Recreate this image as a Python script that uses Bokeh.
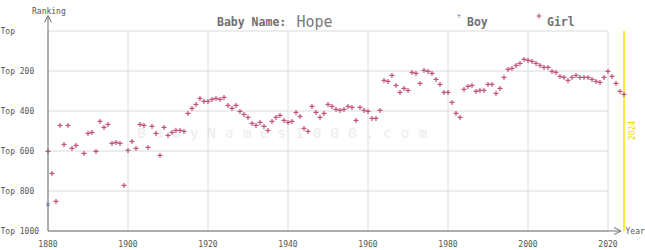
import math
from bokeh.plotting import figure
from bokeh.models import Range1d, Label, Arrow, OpenHead
from bokeh.core.properties import value
from bokeh.embed import file_html
from bokeh.resources import INLINE

# ---------------- data ----------------
years = list(range(1880, 2025))
girl_rank = [
    602, 712, 852, 472, 567, 472, 587, 572, None, 612,   # 1880-1889
    512, 507, 602, 452, 482, 467, 562, 557, 562, 772,    # 1890-1899
    597, 552, 587, 467, 472, 582, 477, 512, 622, 482,    # 1900-1909
    522, 507, 497, 497, 502, 412, 387, 367, 337, 352,    # 1910-1919
    352, 342, 337, 342, 332, 372, 387, 372, 402, 417,    # 1920-1929
    432, 462, 472, 457, 477, 497, 452, 432, 422, 447,    # 1930-1939
    457, 452, 407, 427, 487, 502, 377, 407, 432, 412,    # 1940-1949
    367, 377, 392, 397, 392, 377, 382, 447, 382, 397,    # 1950-1959
    402, 437, 437, 397, 247, 252, 222, 272, 307, 287,    # 1960-1969
    297, 207, 212, 262, 197, 202, 212, 242, 267, 307,    # 1970-1979
    307, 357, 412, 432, 292, 277, 272, 302, 297, 297,    # 1980-1989
    267, 267, 312, 287, 232, 192, 187, 172, 162, 142,    # 1990-1999
    147, 152, 162, 172, 182, 182, 202, 207, 227, 232,    # 2000-2009
    247, 232, 222, 232, 232, 232, 242, 252, 257, 232,    # 2010-2019
    202, 227, 262, 302, 317,                             # 2020-2024
]
girl_rank = [float("nan") if v is None else v for v in girl_rank]
boy_years = [1880]
boy_rank = [867]
x_ticks = [1880, 1900, 1920, 1940, 1960, 1980, 2000, 2020]
x_tick_labels = [str(t) for t in x_ticks]
y_ticks = [0, 200, 400, 600, 800, 1000]
y_tick_labels = ["Top", "Top 200", "Top 400", "Top 600", "Top 800", "Top 1000"]
latest_year = 2024

# ---------------- layout ----------------
# the frame covers the whole canvas; pixel -> data helpers for annotations
W, H = 645, 250
PX_PER_YEAR = 4.0
PX_PER_RANK = 0.2
X_1880_PX = 47.5
Y_RANK0_PX = 30.5
X0 = 1880 - X_1880_PX / PX_PER_YEAR
X1 = X0 + W / PX_PER_YEAR
Y_TOP = -Y_RANK0_PX / PX_PER_RANK
Y_BOT = Y_TOP + H / PX_PER_RANK


def px2x(px):
    return X0 + px / PX_PER_YEAR


def px2y(py):
    return Y_TOP + py / PX_PER_RANK


FONT = "DejaVu Sans Mono"
PINK = "#c2527d"
BLUE = "#7d92c6"
AXIS = "#6e6e6e"
GRID = "#dadada"
TXT = "#555555"

p = figure(width=W, height=H, output_backend="svg", toolbar_location=None,
           x_range=Range1d(X0, X1), y_range=Range1d(Y_BOT, Y_TOP),
           min_border=0, x_axis_location=None, y_axis_location=None)
p.outline_line_color = None
p.grid.visible = False
p.background_fill_color = "white"
p.border_fill_color = "white"

# watermark
p.add_layout(Label(x=px2x(136.5), y=px2y(132), text="B a b y N a m e s 1 0 0 0 . c o m",
                   text_font=FONT, text_font_size="14.6px", text_color="#ececec",
                   text_baseline="middle", text_align="left", level="underlay"))

# grid lines
n = len(x_ticks)
m = len(y_ticks)
p.segment(x0=x_ticks, y0=[y_ticks[0]] * n, x1=x_ticks, y1=[y_ticks[-1]] * n,
          line_color=GRID, line_width=1)
p.segment(x0=[x_ticks[0]] * m, y0=y_ticks, x1=[x_ticks[-1]] * m, y1=y_ticks,
          line_color=GRID, line_width=1)

# latest year marker
p.segment(x0=[latest_year], y0=[y_ticks[0]], x1=[latest_year], y1=[y_ticks[-1]],
          line_color="#ffe100", line_width=1.5)
p.text(x=[px2x(630.5)], y=[px2y(130)], text=[str(latest_year)], angle=math.pi / 2,
       text_font=value(FONT), text_font_size="8px", text_color="#f2d400",
       text_align="center", text_baseline="middle")

# axes with arrows
p.add_layout(Arrow(x_start=x_ticks[0], y_start=y_ticks[-1], x_end=x_ticks[0], y_end=px2y(15),
                   line_color=AXIS, line_width=1,
                   end=OpenHead(size=7, line_color=AXIS, line_width=1)))
p.add_layout(Arrow(x_start=x_ticks[0], y_start=y_ticks[-1], x_end=px2x(620.5), y_end=y_ticks[-1],
                   line_color=AXIS, line_width=1,
                   end=OpenHead(size=7, line_color=AXIS, line_width=1)))

# tick labels
p.text(x=[px2x(0)] * m, y=y_ticks, text=y_tick_labels, text_font=value(FONT),
       text_font_size="8px", text_color=TXT, text_align="left", text_baseline="middle")
p.text(x=x_ticks, y=[px2y(243.2)] * n, text=x_tick_labels, text_font=value(FONT),
       text_font_size="8px", text_color=TXT, text_align="center", text_baseline="middle")

p.add_layout(Label(x=px2x(31.5), y=px2y(10.5), text="Ranking", text_font=FONT,
                   text_font_size="8px", text_color=TXT, text_align="left",
                   text_baseline="alphabetic"))
p.add_layout(Label(x=px2x(625), y=px2y(230.5), text="Year", text_font=FONT,
                   text_font_size="8px", text_color=TXT, text_align="left",
                   text_baseline="middle"))

# title
p.add_layout(Label(x=px2x(216.5), y=px2y(21.7), text="Baby Name:", text_font=FONT,
                   text_font_size="11.5px", text_font_style="bold", text_color="#707070",
                   text_align="left", text_baseline="alphabetic"))
p.add_layout(Label(x=px2x(296), y=px2y(21.7), text="Hope", text_font=FONT,
                   text_font_size="15px", text_color="#7a7a7a",
                   text_align="left", text_baseline="alphabetic"))

# legend
p.scatter(x=[px2x(458.5)], y=[px2y(15.5)], marker="x", size=4, line_width=1.1, color=BLUE)
p.add_layout(Label(x=px2x(466.5), y=px2y(21.7), text="Boy", text_font=FONT,
                   text_font_size="11.5px", text_font_style="bold", text_color="#707070",
                   text_align="left", text_baseline="alphabetic"))
p.scatter(x=[px2x(538.5)], y=[px2y(15.5)], marker="cross", size=5, line_width=1.2, color=PINK)
p.add_layout(Label(x=px2x(546.5), y=px2y(21.7), text="Girl", text_font=FONT,
                   text_font_size="11.5px", text_font_style="bold", text_color="#707070",
                   text_align="left", text_baseline="alphabetic"))

# data
p.scatter(x=years, y=girl_rank, marker="cross", size=5, line_width=1.2, color=PINK)
p.scatter(x=boy_years, y=boy_rank, marker="x", size=4.5, line_width=1.1, color=BLUE)

open("out.html", "w").write(file_html(p, INLINE))
